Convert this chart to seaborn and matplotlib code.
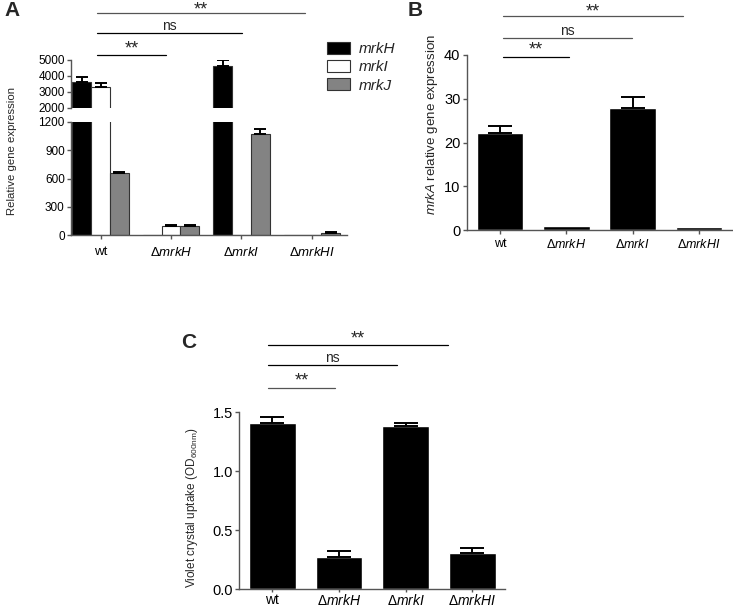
import numpy as np
import pandas as pd
import matplotlib
matplotlib.use('Agg')
import matplotlib.pyplot as plt
import seaborn as sns

# ---------------- data ----------------
strains = ['wt', 'dmrkH', 'dmrkI', 'dmrkHI']
strain_labels = ['wt', r'$\Delta\mathit{mrkH}$', r'$\Delta\mathit{mrkI}$', r'$\Delta\mathit{mrkHI}$']
genes = ['mrkH', 'mrkI', 'mrkJ']

mrkH_expr = [3620, 0, 4630, 0]
mrkH_err = [320, 0, 400, 0]
mrkI_expr = [3290, 97, 0, 0]
mrkI_err = [250, 8, 0, 0]
mrkJ_expr = [658, 95, 1068, 25]
mrkJ_err = [10, 8, 57, 6]

mrkA_expr = [22.1, 0.9, 27.9, 0.8]
mrkA_err = [1.6, 0.0, 2.6, 0.0]

crystal = [1.407, 0.276, 1.386, 0.310]
crystal_err = [0.050, 0.051, 0.022, 0.037]

# ---------------- style ----------------
sns.set_style('ticks')
plt.rcParams['font.family'] = ['Liberation Sans', 'DejaVu Sans']
plt.rcParams['mathtext.fontset'] = 'custom'
plt.rcParams['mathtext.rm'] = 'Liberation Sans'
plt.rcParams['mathtext.it'] = 'Liberation Sans:italic'
plt.rcParams['mathtext.bf'] = 'Liberation Sans:bold'
SPINE = '#555555'

W, H = 733, 609
fig = plt.figure(figsize=(W / 100, H / 100), dpi=100)

def rect(x0, y0, x1, y1):
    return [x0 / W, 1 - y1 / H, (x1 - x0) / W, (y1 - y0) / H]

def style_axis(ax, fs):
    sns.despine(ax=ax)
    for s in ['left', 'bottom']:
        ax.spines[s].set_color(SPINE)
        ax.spines[s].set_linewidth(1.0)
    ax.tick_params(axis='both', colors=SPINE, labelcolor='black', labelsize=fs,
                   length=3, width=1.0, pad=1.5)

def sig_line(ax, x0, x1, yfrac, text, color='black', dy=None):
    tr = ax.get_xaxis_transform()
    ax.plot([x0, x1], [yfrac, yfrac], transform=tr, color=color, lw=0.9, clip_on=False)
    if text == 'ns':
        fs, d = 10, 2.0
    else:
        fs, d = 13, 1.5
    if dy is not None:
        d = dy
    ax.annotate(text, xy=((x0 + x1) / 2, yfrac), xycoords=tr, xytext=(0, d),
                textcoords='offset points', ha='center', va='baseline', fontsize=fs)

# ---------------- panel A (broken axis) ----------------
dfA = pd.DataFrame({
    'strain': strains * 3,
    'gene': np.repeat(genes, len(strains)),
    'value': mrkH_expr + mrkI_expr + mrkJ_expr,
    'err': mrkH_err + mrkI_err + mrkJ_err,
})
palA = {'mrkH': 'black', 'mrkI': 'white', 'mrkJ': '#838383'}

axAt = fig.add_axes(rect(71, 60, 347, 108))
axAb = fig.add_axes(rect(71, 122, 347, 235))
for ax, leg in [(axAt, True), (axAb, False)]:
    sns.barplot(data=dfA, x='strain', y='value', hue='gene', order=strains,
                hue_order=genes, palette=palA, width=0.8, edgecolor='#333333',
                linewidth=0.8, errorbar=None, ax=ax, legend=leg)
    nh = len(genes)
    bw = 0.8 / nh
    for j, g in enumerate(genes):
        sub = dfA[dfA.gene == g].set_index('strain').loc[strains]
        xs = np.arange(len(strains)) + (j - (nh - 1) / 2) * bw
        m = sub['err'].values > 0
        ax.errorbar(xs[m], sub['value'].values[m],
                    yerr=[np.zeros(m.sum()), sub['err'].values[m]],
                    fmt='none', ecolor='black', elinewidth=1.4, capsize=4.5, capthick=1.4)
    ax.set_xlim(-0.42, 3.5)
    ax.set_xlabel('')
    ax.set_ylabel('')
    style_axis(ax, 8.5)

axAt.set_ylim(2000, 5000)
axAt.set_yticks([2000, 3000, 4000, 5000])
axAt.spines['bottom'].set_visible(False)
axAt.tick_params(axis='x', which='both', bottom=False, labelbottom=False)
axAb.set_ylim(0, 1200)
axAb.set_yticks([0, 300, 600, 900, 1200])
axAb.set_xticks(range(len(strains)))
axAb.set_xticklabels(strain_labels, fontsize=9.5)
axAb.tick_params(axis='x', pad=5)

handles, labels = axAt.get_legend_handles_labels()
axAt.get_legend().remove()
fig.legend(handles, labels, loc='upper left', bbox_to_anchor=(327 / W, 1 - 42 / H),
           frameon=False, prop={'style': 'italic', 'size': 11}, handlelength=1.5,
           handleheight=0.82, labelspacing=0.26, handletextpad=0.6, borderpad=0,
           borderaxespad=0)
fig.text(12 / W, 1 - 151 / H, 'Relative gene expression', rotation=90,
         ha='center', va='center', fontsize=8.2)

sig_line(axAt, -0.05, 2.91, 1.985, '**', color='#555555', dy=-1.5)
sig_line(axAt, -0.05, 2.01, 1.56, 'ns')
sig_line(axAt, -0.05, 0.93, 1.10, '**')
fig.text(4 / W, 1 - 10 / H, 'A', fontsize=15, fontweight='bold', va='center')

# ---------------- panel B ----------------
dfB = pd.DataFrame({'strain': strains, 'value': mrkA_expr, 'err': mrkA_err})
axB = fig.add_axes(rect(466.7, 55, 731.7, 230))
sns.barplot(data=dfB, x='strain', y='value', order=strains, color='black',
            width=0.7, errorbar=None, ax=axB, saturation=1)
mB = dfB['err'].values > 0
axB.errorbar(np.arange(len(strains))[mB], dfB['value'].values[mB],
             yerr=[np.zeros(mB.sum()), dfB['err'].values[mB]], fmt='none',
             ecolor='black', elinewidth=1.4, capsize=8.4, capthick=1.4)
axB.set_ylim(0, 40)
axB.set_yticks([0, 10, 20, 30, 40])
axB.set_xlim(-0.5, 3.49)
axB.set_xlabel('')
axB.set_ylabel('')
style_axis(axB, 10.5)
axB.set_xticks(range(len(strains)))
axB.set_xticklabels(strain_labels, fontsize=9)
axB.tick_params(axis='x', pad=2.5)
fig.text(432 / W, 1 - 125 / H, r'$\mathit{mrkA}$ relative gene expression',
         rotation=90, ha='center', va='center', fontsize=9.6)
sig_line(axB, 0.04, 2.76, 1.223, '**', color='#555555', dy=-0.5)
sig_line(axB, 0.04, 1.99, 1.099, 'ns', color='#555555')
sig_line(axB, 0.04, 1.045, 0.99, '**')
fig.text(408 / W, 1 - 10 / H, 'B', fontsize=15, fontweight='bold', va='center')

# ---------------- panel C ----------------
dfC = pd.DataFrame({'strain': strains, 'value': crystal, 'err': crystal_err})
axC = fig.add_axes(rect(239.3, 412.3, 505, 589.3))
sns.barplot(data=dfC, x='strain', y='value', order=strains, color='black',
            width=0.7, errorbar=None, ax=axC, saturation=1)
axC.errorbar(np.arange(len(strains)), dfC['value'].values,
             yerr=[np.zeros(len(strains)), dfC['err'].values], fmt='none',
             ecolor='black', elinewidth=1.4, capsize=8.4, capthick=1.4)
axC.set_ylim(0, 1.5)
axC.set_yticks([0.0, 0.5, 1.0, 1.5])
axC.set_yticklabels(['0.0', '0.5', '1.0', '1.5'])
axC.set_xlim(-0.495, 3.49)
axC.set_xlabel('')
axC.set_ylabel('')
style_axis(axC, 10.5)
axC.set_xticks(range(len(strains)))
axC.set_xticklabels(strain_labels, fontsize=10)
axC.tick_params(axis='x', length=2, pad=1)
fig.text(192 / W, 1 - 508 / H, r'Violet crystal uptake (OD$_{\mathrm{600nm}}$)',
         rotation=90, ha='center', va='center', fontsize=8.5)
sig_line(axC, -0.07, 2.64, 1.378, '**')
sig_line(axC, -0.07, 1.87, 1.266, 'ns')
sig_line(axC, -0.07, 0.945, 1.139, '**', color='#555555')
fig.text(181 / W, 1 - 342 / H, 'C', fontsize=15, fontweight='bold', va='center')

fig.savefig('out.png', dpi=100)
